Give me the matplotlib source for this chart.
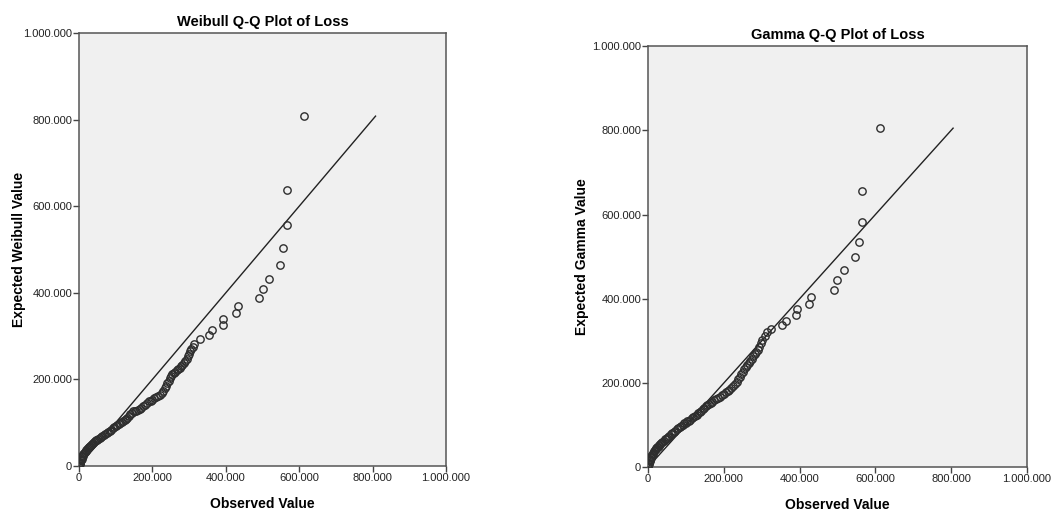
import matplotlib.pyplot as plt
from matplotlib.ticker import FuncFormatter

plt.rcParams['font.family'] = ['Liberation Sans', 'DejaVu Sans']

# observed vs expected quantiles, in thousands
weibull_obs = [0, 1, 2, 3, 4, 5, 6, 7, 8, 9,
               10, 12, 14, 16, 18, 20, 22, 24, 26, 28,
               30, 32, 35, 38, 41, 44, 47, 50, 53, 56,
               60, 64, 68, 72, 76, 80, 84, 88, 92, 96,
               100, 104, 108, 112, 116, 120, 124, 128, 132, 136,
               140, 144, 148, 152, 156, 160, 165, 170, 175, 180,
               185, 190, 195, 200, 205, 210, 215, 220, 225, 230,
               234, 238, 241, 244, 247, 250, 254, 258, 262, 266,
               270, 274, 278, 282, 286, 290, 293, 296, 299, 302,
               306, 310, 314, 330, 353, 363, 392, 393, 427, 432,
               491, 500, 518, 548, 557, 566, 566, 614]
weibull_exp = [0, 3, 5, 8, 10, 13, 15, 17, 20, 22,
               24, 27, 30, 32, 35, 37, 39, 41, 43, 45,
               47, 49, 51, 53, 55, 57, 59, 61, 63, 65,
               67, 69, 71, 74, 76, 78, 81, 84, 87, 89,
               92, 95, 98, 100, 102, 104, 106, 108, 111, 115,
               119, 123, 126, 127, 128, 129, 131, 134, 138, 142,
               146, 149, 151, 153, 156, 159, 162, 165, 168, 173,
               179, 185, 191, 197, 203, 208, 212, 215, 218, 221,
               224, 227, 230, 234, 238, 243, 248, 253, 259, 265,
               270, 275, 282, 293, 303, 314, 325, 339, 353, 370,
               388, 409, 433, 464, 503, 556, 637, 808]

gamma_obs = [0, 1, 2, 3, 4, 5, 6, 7, 8, 9,
             10, 12, 14, 16, 18, 20, 22, 24, 26, 28,
             30, 32, 35, 38, 41, 44, 47, 50, 53, 56,
             60, 64, 68, 72, 76, 80, 84, 88, 92, 96,
             100, 104, 108, 112, 116, 120, 124, 128, 132, 136,
             140, 144, 148, 152, 156, 160, 165, 170, 175, 180,
             185, 190, 195, 200, 205, 210, 215, 220, 225, 230,
             234, 238, 242, 246, 250, 254, 258, 262, 266, 270,
             274, 278, 282, 286, 290, 294, 298, 302, 308, 314,
             325, 353, 363, 390, 393, 426, 431, 490, 499, 516,
             547, 556, 564, 565, 613]
gamma_exp = [0, 4, 8, 11, 14, 17, 20, 22, 25, 27,
             29, 32, 35, 38, 40, 43, 45, 47, 49, 51,
             53, 55, 58, 61, 63, 66, 68, 70, 72, 75,
             78, 81, 84, 87, 90, 93, 96, 99, 101, 104,
             106, 109, 111, 113, 116, 119, 122, 125, 128, 131,
             134, 138, 141, 145, 148, 150, 153, 156, 159, 162,
             165, 168, 171, 175, 178, 181, 184, 188, 192, 197,
             203, 209, 215, 221, 227, 233, 238, 243, 248, 253,
             258, 263, 268, 273, 279, 286, 294, 302, 312, 322,
             329, 337, 348, 361, 375, 388, 405, 422, 445, 468,
             498, 534, 583, 657, 805]

weibull_line_end = 808
gamma_line_end = 805
ticks = [0, 200000, 400000, 600000, 800000, 1000000]


def dotted_thousands(v, pos):
    return '{:,.0f}'.format(v).replace(',', '.')


def qq_panel(ax, obs, exp, line_end, title, ylabel, ylabel_x):
    ax.set_facecolor('#f0f0f0')
    ax.plot([0, line_end * 1000], [0, line_end * 1000], color='#222222', lw=1.0, zorder=2)
    ax.plot([o * 1000 for o in obs], [e * 1000 for e in exp], 'o', mfc='none',
            mec='#2e2e2e', mew=1.0, ms=5.3, zorder=3)
    ax.set_xlim(0, 1000000)
    ax.set_ylim(0, 1000000)
    ax.set_xticks(ticks)
    ax.set_yticks(ticks)
    ax.xaxis.set_major_formatter(FuncFormatter(dotted_thousands))
    ax.yaxis.set_major_formatter(FuncFormatter(dotted_thousands))
    ax.tick_params(direction='out', length=4, width=1, color='#444444',
                   labelsize=8, labelcolor='#222222', pad=1)
    for s in ax.spines.values():
        s.set_color('#555555')
        s.set_linewidth(1.1)
    ax.set_title(title, fontsize=10.5, fontweight='bold', pad=5)
    ax.set_xlabel('Observed Value', fontsize=10, fontweight='bold', labelpad=10)
    ax.set_ylabel(ylabel, fontsize=10, fontweight='bold')
    ax.yaxis.set_label_coords(ylabel_x, 0.5)


fig = plt.figure(figsize=(10.51, 5.13), dpi=100)
ax1 = fig.add_axes([79 / 1051, 47 / 513, 367 / 1051, 433 / 513])
ax2 = fig.add_axes([648 / 1051, 45.7 / 513, 379 / 1051, 421.3 / 513])

qq_panel(ax1, weibull_obs, weibull_exp, weibull_line_end,
         'Weibull Q-Q Plot of Loss', 'Expected Weibull Value', -0.145)
qq_panel(ax2, gamma_obs, gamma_exp, gamma_line_end,
         'Gamma Q-Q Plot of Loss', 'Expected Gamma Value', -0.156)

plt.savefig('out.png', dpi=100)
plt.close()
